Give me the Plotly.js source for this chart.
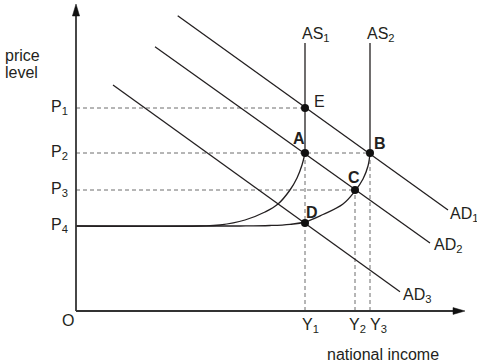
<!DOCTYPE html>
<html>
<head>
<meta charset="utf-8">
<script src="https://cdn.plot.ly/plotly-3.0.1.min.js"></script>
<style>html,body{margin:0;padding:0;background:#fff;}#chart{width:477px;height:364px;}</style>
</head>
<body>
<div id="chart"></div>
<script>
// ---- data (arbitrary units: origin O at (0,0)) ----
const priceLabels = ['P<sub>1</sub>', 'P<sub>2</sub>', 'P<sub>3</sub>', 'P<sub>4</sub>'];
const priceLevels = [203, 158, 121, 85];
const incomeLabels = ['Y<sub>1</sub>', 'Y<sub>2</sub>', 'Y<sub>3</sub>'];
const incomeLevels = [229, 279, 294];

const pointNames = ['E', 'A', 'B', 'C', 'D'];
const pointX = [229, 229, 294, 279, 229];
const pointY = [203, 158, 158, 121, 88];

const ad1X = [101.7, 372], ad1Y = [295.3, 101];
const ad2X = [79, 354],    ad2Y = [264.3, 68];
const ad3X = [37, 324],    ad3Y = [226, 19.3];
const adNames = ['AD<sub>1</sub>', 'AD<sub>2</sub>', 'AD<sub>3</sub>'];

const as1X = [0, 124, 144, 169, 189, 202, 214, 221, 226, 229];
const as1Y = [85, 85, 86, 91, 99, 107, 121, 133, 146, 158];
const as2X = [0, 164, 194, 214, 229, 247, 267, 279, 287, 292, 294];
const as2Y = [85, 85, 85.5, 86.7, 89, 96.5, 107, 120, 132, 145, 158];
const asTop = 268;
const asNames = ['AS<sub>1</sub>', 'AS<sub>2</sub>'];

const xAxisMax = 389, yAxisMax = 307;

// ---- drawing ----
const INK = '#231f20';
const FONT = 'Liberation Sans, Arial, Helvetica, sans-serif';
const lineStyle = {color: INK, width: 1.3};
const dashStyle = {color: '#6d6d6d', width: 1, dash: '4px,3px'};

const traces = [];
function addLine(x, y, line, shape) {
  traces.push({x: x, y: y, type: 'scatter', mode: 'lines', line: Object.assign({}, line, shape ? {shape: shape, smoothing: 1.1} : {}), hoverinfo: 'skip'});
}

// dashed guides
const iE = 0, iA = 1, iB = 2, iC = 3;
addLine([0, pointX[iE]], [pointY[iE], pointY[iE]], dashStyle);
addLine([0, pointX[iB]], [pointY[iB], pointY[iB]], dashStyle);
addLine([0, pointX[iC]], [pointY[iC], pointY[iC]], dashStyle);
addLine([pointX[iA], pointX[iA]], [0, pointY[iA]], dashStyle);
addLine([pointX[iC], pointX[iC]], [0, pointY[iC]], dashStyle);
addLine([pointX[iB], pointX[iB]], [0, pointY[iB]], dashStyle);

// AD lines
addLine(ad1X, ad1Y, lineStyle);
addLine(ad2X, ad2Y, lineStyle);
addLine(ad3X, ad3Y, lineStyle);

// AS curves
addLine(as1X, as1Y, lineStyle, 'spline');
addLine([as1X[as1X.length - 1], as1X[as1X.length - 1]], [as1Y[as1Y.length - 1], asTop], lineStyle);
addLine(as2X, as2Y, lineStyle, 'spline');
addLine([as2X[as2X.length - 1], as2X[as2X.length - 1]], [as2Y[as2Y.length - 1], asTop], lineStyle);

// axes
const axisStyle = {color: '#333', width: 1.8};
addLine([0, 0], [0, yAxisMax - 10], axisStyle);
addLine([0, xAxisMax - 10], [0, 0], axisStyle);
traces.push({x: [-3.6, 0, 3.6, -3.6], y: [yAxisMax - 12, yAxisMax, yAxisMax - 12, yAxisMax - 12], type: 'scatter', mode: 'lines', fill: 'toself', fillcolor: '#111', line: {color: '#111', width: 0.5}, hoverinfo: 'skip'});
traces.push({x: [xAxisMax - 12, xAxisMax, xAxisMax - 12, xAxisMax - 12], y: [-3.4, 0, 3.4, -3.4], type: 'scatter', mode: 'lines', fill: 'toself', fillcolor: '#111', line: {color: '#111', width: 0.5}, hoverinfo: 'skip'});

// points
traces.push({x: pointX, y: pointY, type: 'scatter', mode: 'markers', marker: {color: '#111', size: 8}, hoverinfo: 'skip'});

// ---- annotations ----
const ann = [];
function txt(x, y, text, opts) {
  ann.push(Object.assign({x: x, y: y, xref: 'x', yref: 'y', text: text, showarrow: false,
    font: {family: FONT, size: 16, color: INK}, xanchor: 'left', yanchor: 'middle'}, opts || {}));
}
txt(-73, 256, 'price');
txt(-73, 239, 'level');
priceLabels.forEach((t, i) => txt(-6, priceLevels[i] + 1, t, {xanchor: 'right'}));
const yOff = [-5, -8, -2];
incomeLabels.forEach((t, i) => txt(incomeLevels[i] + yOff[i], -3, t, {yanchor: 'top'}));
txt(-8.5, -9, 'O', {xanchor: 'center'});
txt(306.5, -43, 'national income', {xanchor: 'center'});

txt(235.5, 210, 'E');
const boldLabel = {font: {family: FONT, size: 16, color: INK, weight: 'bold'}, xanchor: 'center'};
txt(222.5, 173, '<b>A</b>', boldLabel);
txt(304, 168, '<b>B</b>', boldLabel);
txt(277.5, 134, '<b>C</b>', boldLabel);
txt(236, 99, '<b>D</b>', boldLabel);

txt(224, 277, asNames[0]);
txt(289, 277, asNames[1]);
txt(372, 97, adNames[0]);
txt(355.7, 66, adNames[1]);
txt(325, 16, adNames[2]);

const layout = {
  width: 477, height: 364,
  margin: {l: 0, r: 0, t: 0, b: 0, pad: 0},
  paper_bgcolor: '#fff', plot_bgcolor: '#fff',
  showlegend: false,
  xaxis: {range: [-76, 401], visible: false, fixedrange: true},
  yaxis: {range: [-53, 311], visible: false, fixedrange: true},
  annotations: ann
};

Plotly.newPlot('chart', traces, layout, {staticPlot: true, displayModeBar: false});
</script>
</body>
</html>
